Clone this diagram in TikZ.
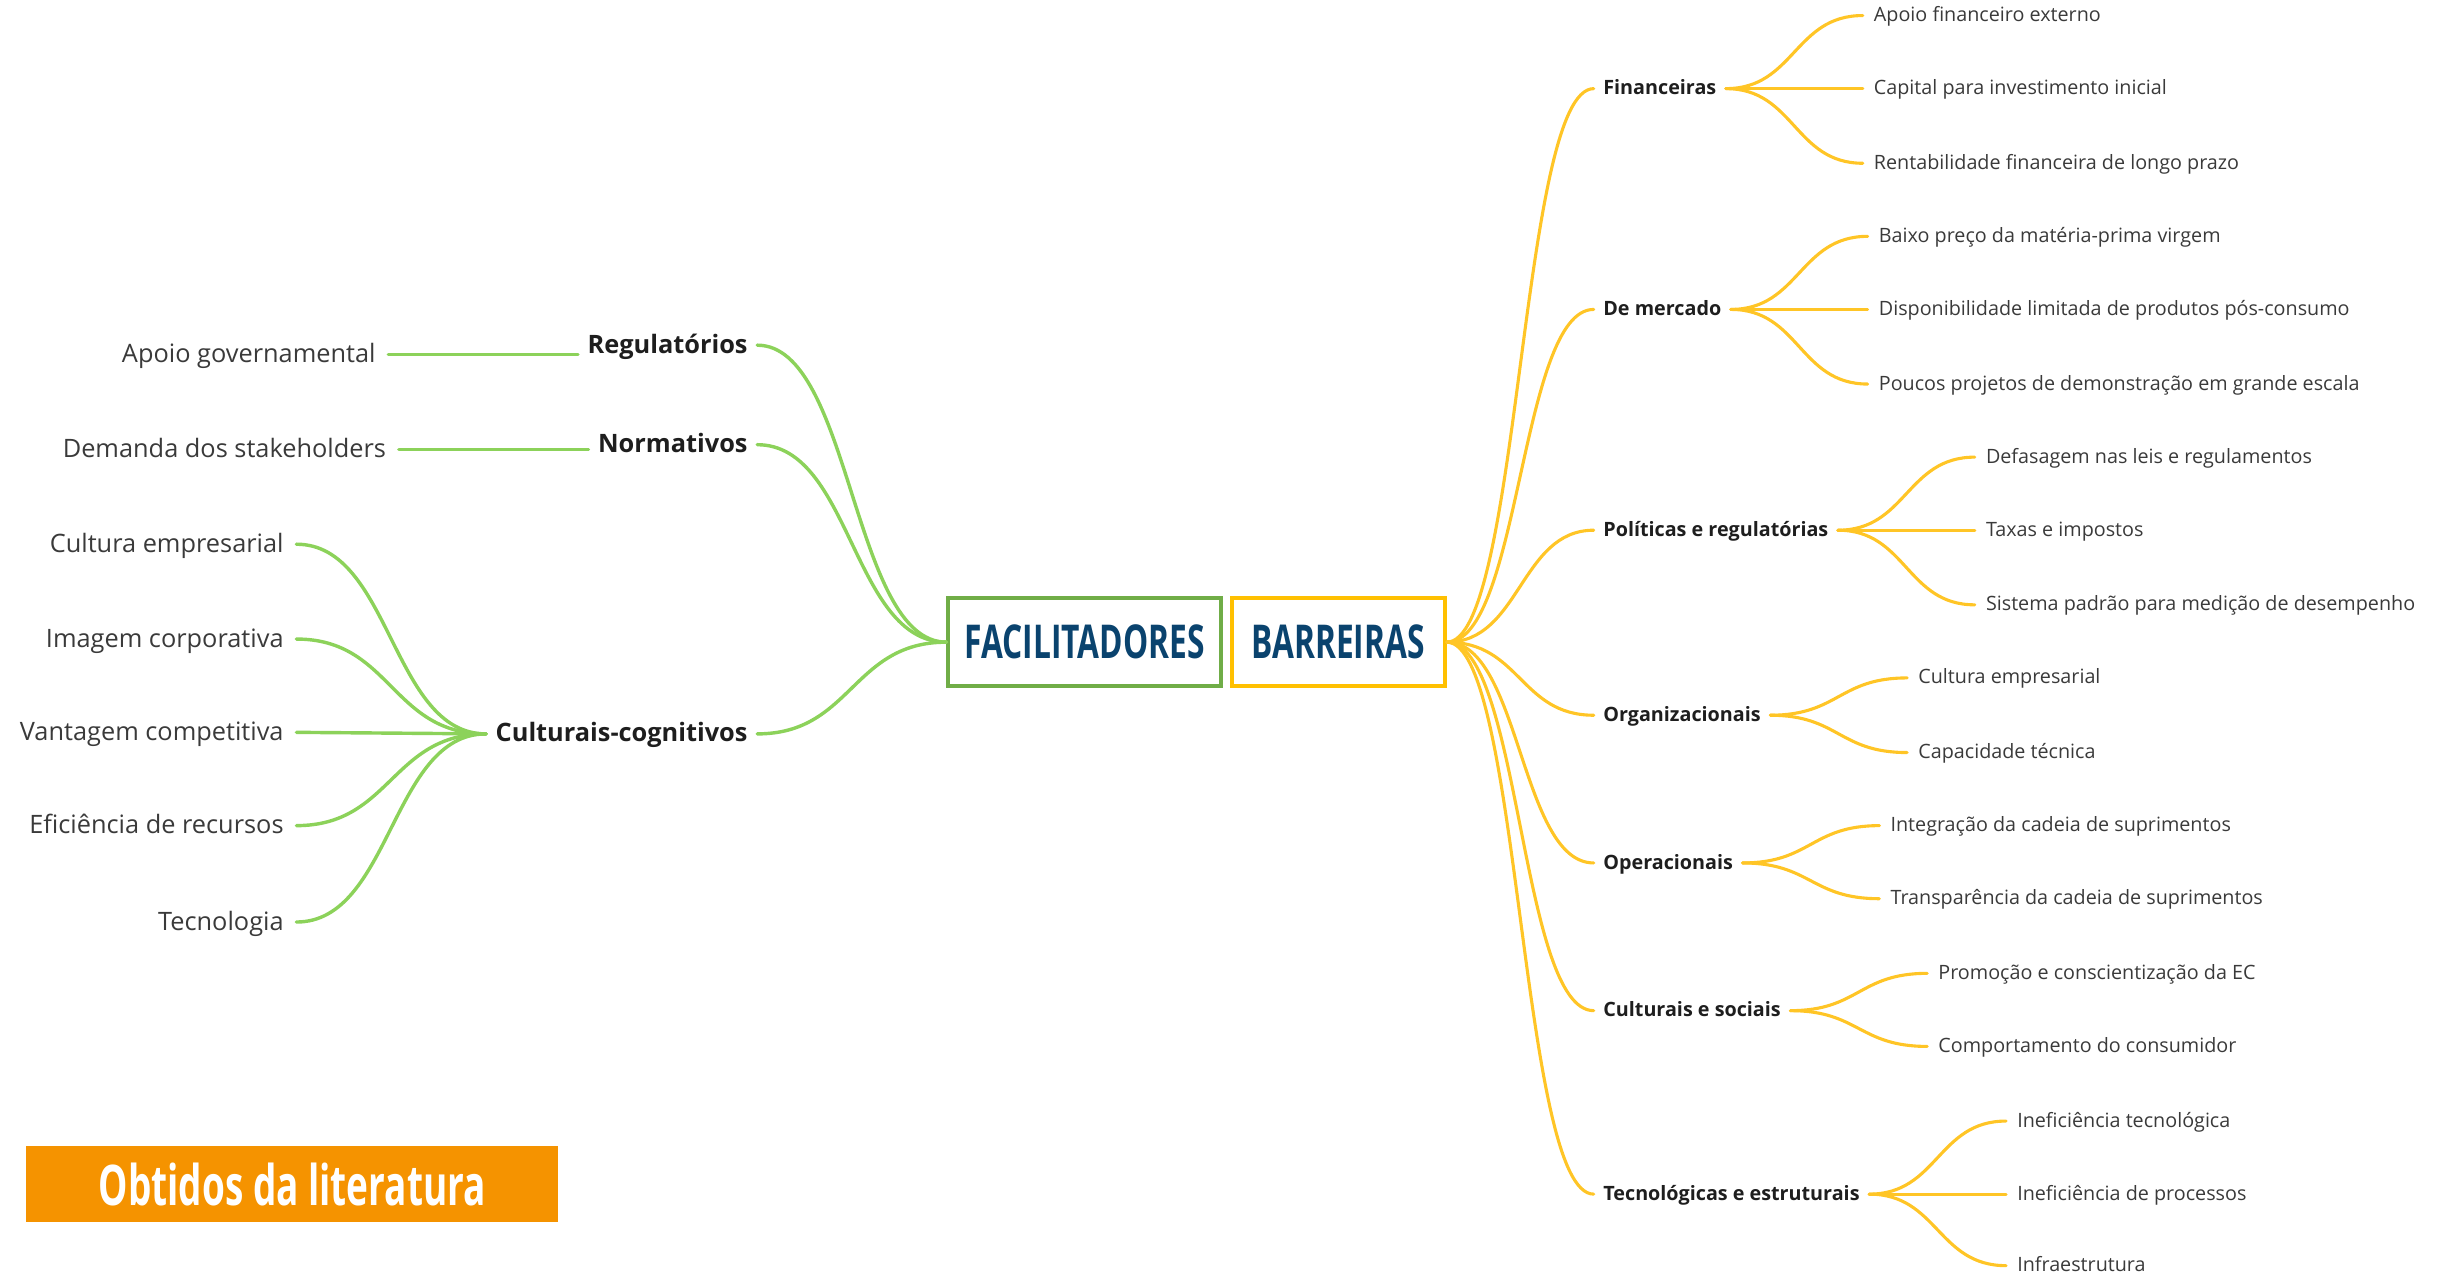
\documentclass[tikz,border=0pt]{standalone}
\usepackage{fontspec}
\setmainfont{Open Sans}
\newfontfamily\headfont[FakeStretch=0.68]{Open Sans}
\newfontfamily\tagfont[FakeStretch=0.66]{Open Sans}
\usetikzlibrary{positioning,calc}

\definecolor{facgreen}{HTML}{70AD47}
\definecolor{linkgreen}{HTML}{8CD25A}
\definecolor{bargold}{HTML}{FFC000}
\definecolor{linkgold}{HTML}{FFC526}
\definecolor{headblue}{HTML}{0A436E}
\definecolor{tagorange}{HTML}{F59300}
\definecolor{labeldark}{HTML}{1E1E1E}
\definecolor{labelgray}{HTML}{3A3A3A}

\begin{document}
\begin{tikzpicture}[x=1pt, y=-1pt,
  hub/.style={draw, line width=2.6pt, inner sep=0pt, minimum height=57pt, text=headblue, font=\headfont\bfseries\fontsize{30}{32}\selectfont},
  catL/.style={inner ysep=2pt, text height=10.4pt, text depth=0pt, inner xsep=6pt, text=labeldark, font=\bfseries\fontsize{16.3}{20}\selectfont},
  leafL/.style={inner ysep=2pt, text height=10.4pt, text depth=0pt, inner xsep=8pt, text=labelgray, font=\fontsize{16.3}{20}\selectfont},
  catR/.style={inner ysep=2pt, text height=7.8pt, text depth=0pt, inner xsep=6pt, text=labeldark, font=\bfseries\fontsize{12.7}{15}\selectfont},
  leafR/.style={inner ysep=2pt, text height=7.8pt, text depth=0pt, inner xsep=7pt, text=labelgray, font=\fontsize{12.7}{15}\selectfont},
  mindcurve/.style={line cap=round, to path={let \p1=(\tikztostart), \p2=(\tikztotarget) in
    .. controls ({(\x1+\x2)/2},\y1) and ({(\x1+\x2)/2},\y2) .. (\tikztotarget)}},
  greenlink/.style={mindcurve, draw=linkgreen, line width=2.2pt},
  goldlink/.style={mindcurve, draw=linkgold, line width=2pt},
]
\useasboundingbox (0,0) rectangle (1568,819);

% central hubs
\node[hub, draw=facgreen, minimum width=175pt] (fac) at (697.5,413) {FACILITADORES};
\node[hub, draw=bargold, minimum width=137pt, right=4.6pt of fac] (bar) {BARREIRAS};

% facilitadores
\node[catL, anchor=east] (reg) at (487,222) {Regulatórios};
\node[catL, anchor=east] (nor) at (487,286) {Normativos};
\node[catL, anchor=east] (cog) at (487,472) {Culturais-cognitivos};

\node[leafL, left=122pt of reg, yshift=-6pt] (gov) {Apoio governamental};
\node[leafL, left=122pt of nor, yshift=-3pt] (stk) {Demanda dos stakeholders};

\node[leafL, left=122pt of cog, yshift=122pt] (cog1) {Cultura empresarial};
\node[leafL, left=122pt of cog, yshift=61pt] (cog2) {Imagem corporativa};
\node[leafL, left=122pt of cog, yshift=1pt] (cog3) {Vantagem competitiva};
\node[leafL, left=122pt of cog, yshift=-59pt] (cog4) {Eficiência de recursos};
\node[leafL, left=122pt of cog, yshift=-121pt] (cog5) {Tecnologia};

% barreiras
\node[catR, anchor=west] (fin) at (1025,57) {Financeiras};
\node[catR, anchor=west] (mer) at (1025,199) {De mercado};
\node[catR, anchor=west] (pol) at (1025,341) {Políticas e regulatórias};
\node[catR, anchor=west] (org) at (1025,460) {Organizacionais};
\node[catR, anchor=west] (ope) at (1025,555) {Operacionais};
\node[catR, anchor=west] (cul) at (1025,650) {Culturais e sociais};
\node[catR, anchor=west] (tec) at (1025,768) {Tecnológicas e estruturais};

\node[leafR, right=88pt of fin, yshift=47pt] (fin1) {Apoio financeiro externo};
\node[leafR, right=88pt of fin] (fin2) {Capital para investimento inicial};
\node[leafR, right=88pt of fin, yshift=-48pt] (fin3) {Rentabilidade financeira de longo prazo};

\node[leafR, right=88pt of mer, yshift=47pt] (mer1) {Baixo preço da matéria-prima virgem};
\node[leafR, right=88pt of mer] (mer2) {Disponibilidade limitada de produtos pós-consumo};
\node[leafR, right=88pt of mer, yshift=-48pt] (mer3) {Poucos projetos de demonstração em grande escala};

\node[leafR, right=88pt of pol, yshift=47pt] (pol1) {Defasagem nas leis e regulamentos};
\node[leafR, right=88pt of pol] (pol2) {Taxas e impostos};
\node[leafR, right=88pt of pol, yshift=-48pt] (pol3) {Sistema padrão para medição de desempenho};

\node[leafR, right=88pt of org, yshift=24pt] (org1) {Cultura empresarial};
\node[leafR, right=88pt of org, yshift=-24pt] (org2) {Capacidade técnica};

\node[leafR, right=88pt of ope, yshift=24pt] (ope1) {Integração da cadeia de suprimentos};
\node[leafR, right=88pt of ope, yshift=-23pt] (ope2) {Transparência da cadeia de suprimentos};

\node[leafR, right=88pt of cul, yshift=24pt] (cul1) {Promoção e conscientização da EC};
\node[leafR, right=88pt of cul, yshift=-23pt] (cul2) {Comportamento do consumidor};

\node[leafR, right=88pt of tec, yshift=47pt] (tec1) {Ineficiência tecnológica};
\node[leafR, right=88pt of tec] (tec2) {Ineficiência de processos};
\node[leafR, right=88pt of tec, yshift=-46pt] (tec3) {Infraestrutura};

% branches
\foreach \c in {reg,nor,cog}
  \draw[greenlink] (fac.west) to (\c.east);
\draw[greenlink] (gov.east) -- (gov.east -| reg.west);
\draw[greenlink] (stk.east) -- (stk.east -| nor.west);
\foreach \i in {1,...,5}
  \draw[greenlink] (cog.west) to (cog\i.east);

\foreach \c in {fin,mer,pol,org,ope,cul,tec}
  \draw[goldlink] (bar.east) to (\c.west);
\foreach \c in {fin,mer,pol,tec}
  \foreach \i in {1,2,3}
    \draw[goldlink] (\c.east) to (\c\i.west);
\foreach \c in {org,ope,cul}
  \foreach \i in {1,2}
    \draw[goldlink] (\c.east) to (\c\i.west);

% source tag
\node[fill=tagorange, minimum width=342pt, minimum height=49pt, inner sep=0pt, text=white,
  font=\tagfont\bfseries\fontsize{36}{38}\selectfont] (tag) at (188,761.5) {Obtidos da literatura};
\end{tikzpicture}
\end{document}
